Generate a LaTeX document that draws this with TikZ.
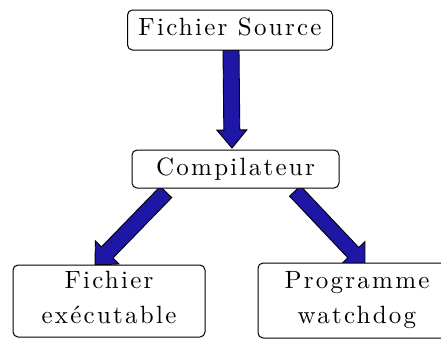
\documentclass[tikz,border=0pt]{standalone}
\usepackage{fontspec}
\usetikzlibrary{calc}
\newfontfamily\boxfont{lmroman10-regular.otf}[LetterSpace=9]
\definecolor{arrowblue}{RGB}{30,22,165}
\tikzset{
  box/.style={draw=black, line width=1pt, fill=white, rounded corners=5pt, inner sep=0pt,
    align=center, font=\boxfont\fontsize{25}{35}\selectfont},
}
\newcommand{\blockarr}[5]{% start, end, shaft half, head half, head length
  \coordinate (hb) at ($(#2)!#5!(#1)$);
  \filldraw[fill=arrowblue, draw=black, line width=0.9pt, line join=miter]
    ($(#1)!#3!90:(#2)$) -- ($(hb)!#3!90:(#2)$) -- ($(hb)!#4!90:(#2)$) -- (#2)
    -- ($(hb)!#4!-90:(#2)$) -- ($(hb)!#3!-90:(#2)$) -- ($(#1)!#3!-90:(#2)$) -- cycle;
}
\begin{document}
\begin{tikzpicture}[x=1pt,y=-1pt]
\clip (0,0) rectangle (441,340);
\fill[white] (0,0) rectangle (441,340);
% arrow end points
\coordinate (a1) at (231,50);
\coordinate (b1) at (232,148);
\coordinate (a2) at (166,192);
\coordinate (b2) at (95,265);
\coordinate (a3) at (295,191);
\coordinate (b3) at (365,265);
\blockarr{a1}{b1}{8pt}{15pt}{18pt}
\blockarr{a2}{b2}{8pt}{16.5pt}{17.5pt}
\blockarr{a3}{b3}{7.5pt}{16pt}{17pt}
% boxes
\node[box, minimum width=205pt, minimum height=40pt, text depth=6pt] (src) at (230,30) {Fichier Source};
\node[box, minimum width=207pt, minimum height=38pt] (comp) at (235.5,169) {Compilateur};
\node[box, minimum width=192pt, minimum height=72pt] (exe) at (109,301) {Fichier\\exécutable\\[-27pt]\mbox{}};
\node[box, minimum width=198pt, minimum height=75pt] (wd) at (357,300.5) {Programme\\watchdog};
\end{tikzpicture}
\end{document}
